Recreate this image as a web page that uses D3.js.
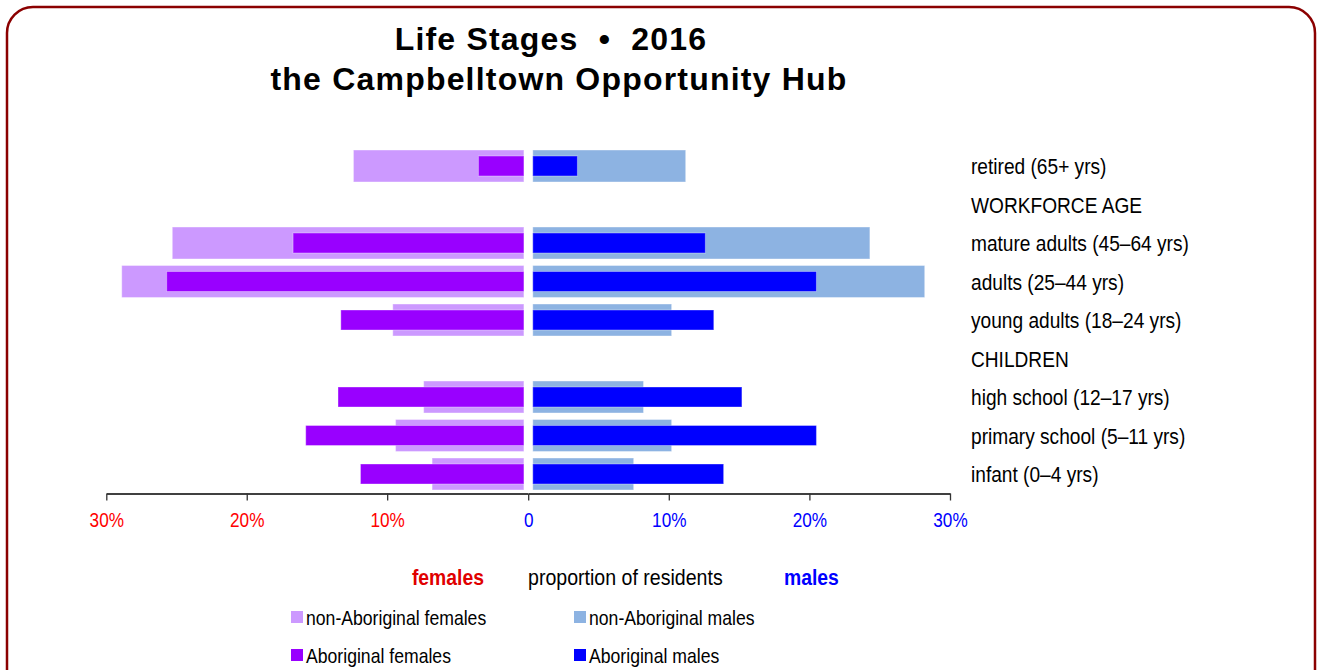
<!DOCTYPE html>
<html>
<head>
<meta charset="utf-8">
<script src="https://cdn.jsdelivr.net/npm/d3@7"></script>
<style>
  body { margin: 0; background: #fff; }
  svg { display: block; }
  text { font-family: "Liberation Sans", Arial, sans-serif; }
</style>
</head>
<body>
<div id="chart"></div>
<script>
// rows from top to bottom (header rows have no bars)
const rows = [
  "retired (65+ yrs)",
  "WORKFORCE AGE",
  "mature adults (45–64 yrs)",
  "adults (25–44 yrs)",
  "young adults (18–24 yrs)",
  "CHILDREN",
  "high school (12–17 yrs)",
  "primary school (5–11 yrs)",
  "infant (0–4 yrs)"
]
// percent of residents
const nonAbFemales = [12.4, null, 25.3, 28.9, 9.6, null, 7.4, 9.4, 6.8]
const abFemales = [3.5, null, 16.7, 25.7, 13.3, null, 13.5, 15.8, 11.9]
const nonAbMales = [11.2, null, 24.3, 28.2, 10.2, null, 8.2, 10.2, 7.5]
const abMales = [3.5, null, 12.6, 20.5, 13.2, null, 15.2, 20.5, 13.9]

const tickValues = [0, 10, 20, 30]
const legendItems = [
  { name: "non-Aboriginal females", color: "#cc99ff" },
  { name: "non-Aboriginal males", color: "#8db3e2" },
  { name: "Aboriginal females", color: "#9900ff" },
  { name: "Aboriginal males", color: "#0000ff" }
]

const W = 1320, H = 670
const svg = d3.select("#chart").append("svg").attr("width", W).attr("height", H)

// texto estreito (sem Arial Narrow instalada, comprime na horizontal)
function narrowText(parent, x, y, txt, size, scale, anchor) {
  return parent.append("text")
    .attr("transform", "translate(" + x + "," + y + ") scale(" + scale + ",1)")
    .attr("font-size", size)
    .attr("text-anchor", anchor || "start")
    .text(txt)
}

// frame
svg.append("rect")
  .attr("x", 7).attr("y", 7)
  .attr("width", 1308).attr("height", 720)
  .attr("rx", 26)
  .attr("fill", "#fff")
  .attr("stroke", "#8b0000")
  .attr("stroke-width", 2.5)

// title
const title = svg.append("text")
  .attr("font-weight", "bold")
  .attr("font-size", 32)
  .attr("letter-spacing", 1.2)
  .attr("text-anchor", "middle")
  .attr("fill", "#000")
  .style("white-space", "pre")
title.append("tspan").attr("x", 551).attr("y", 50).text("Life Stages  •  2016")
title.append("tspan").attr("x", 559).attr("y", 90).text("the Campbelltown Opportunity Hub")

// scales
const xF = d3.scaleLinear().domain([0, 30]).range([527.6, 106.3])
const xM = d3.scaleLinear().domain([0, 30]).range([528.2, 950])
const y = d3.scaleBand().domain(rows).range([146.75, 493.25])
  .paddingInner(0.17).paddingOuter(0.085)
const gapF = 3.7, gapM = 4.6
const innerH = 20

function femaleBars(values, color, inner) {
  svg.append("g").selectAll("rect")
    .data(rows.map((r, i) => ({ r, v: values[i] })).filter(d => d.v != null))
    .enter().append("rect")
    .attr("x", d => xF(d.v))
    .attr("width", d => xF(0) - gapF - xF(d.v))
    .attr("y", d => inner ? y(d.r) + (y.bandwidth() - innerH) / 2 : y(d.r))
    .attr("height", inner ? innerH : y.bandwidth())
    .attr("fill", color)
    .attr("stroke", "#fff").attr("stroke-opacity", 0.35).attr("stroke-width", 1)
}
function maleBars(values, color, inner) {
  svg.append("g").selectAll("rect")
    .data(rows.map((r, i) => ({ r, v: values[i] })).filter(d => d.v != null))
    .enter().append("rect")
    .attr("x", xM(0) + gapM)
    .attr("width", d => xM(d.v) - xM(0) - gapM)
    .attr("y", d => inner ? y(d.r) + (y.bandwidth() - innerH) / 2 : y(d.r))
    .attr("height", inner ? innerH : y.bandwidth())
    .attr("fill", color)
    .attr("stroke", "#fff").attr("stroke-opacity", 0.35).attr("stroke-width", 1)
}

femaleBars(nonAbFemales, "#cc99ff", false)
maleBars(nonAbMales, "#8db3e2", false)
femaleBars(abFemales, "#9900ff", true)
maleBars(abMales, "#0000ff", true)

// row labels
const labels = svg.append("g").attr("fill", "#000")
rows.forEach(r => {
  narrowText(labels, 971, y(r) + y.bandwidth() / 2 + 8, r, 22.5, 0.85)
})

// axes
const axisY = 493.5
const axisF = d3.axisBottom(xF).tickValues(tickValues.filter(t => t > 0))
  .tickFormat(d => d + "%").tickSize(7).tickSizeOuter(0)
const axisM = d3.axisBottom(xM).tickValues(tickValues)
  .tickFormat(d => d === 0 ? "0" : d + "%").tickSize(7).tickSizeOuter(0)

const gF = svg.append("g").attr("transform", "translate(0," + axisY + ")").call(axisF)
const gM = svg.append("g").attr("transform", "translate(0," + axisY + ")").call(axisM)
;[gF, gM].forEach((g, i) => {
  g.attr("font-family", null).attr("font-size", null)
  g.select(".domain").attr("stroke", "#000").attr("stroke-width", 1.3)
  g.selectAll(".tick line").attr("stroke", "#333").attr("stroke-width", 1.3)
  g.selectAll(".tick text")
    .attr("font-size", 20)
    .attr("y", 33.5)
    .attr("dy", null)
    .attr("transform", "scale(0.86,1)")
    .attr("fill", i === 0 ? "#ff0000" : "#0000ff")
})

// axis title row
const cap = svg.append("g")
narrowText(cap, 484, 585, "females", 22, 0.88, "end")
  .attr("font-weight", "bold").attr("fill", "#e00000")
narrowText(cap, 528, 585, "proportion of residents", 22, 0.89)
  .attr("fill", "#000")
narrowText(cap, 784, 585, "males", 22, 0.88)
  .attr("font-weight", "bold").attr("fill", "#0000ff")

// legend
const legendX = [291, 574]
const legendY = [617, 655]
const lg = svg.append("g")
legendItems.forEach((d, i) => {
  const lx = legendX[i % 2], ly = legendY[Math.floor(i / 2)]
  lg.append("rect").attr("x", lx).attr("y", ly - 6).attr("width", 12).attr("height", 12)
    .attr("fill", d.color)
  narrowText(lg, lx + 15, ly + 7.5, d.name, 20.5, 0.86).attr("fill", "#000")
})
</script>
</body>
</html>
